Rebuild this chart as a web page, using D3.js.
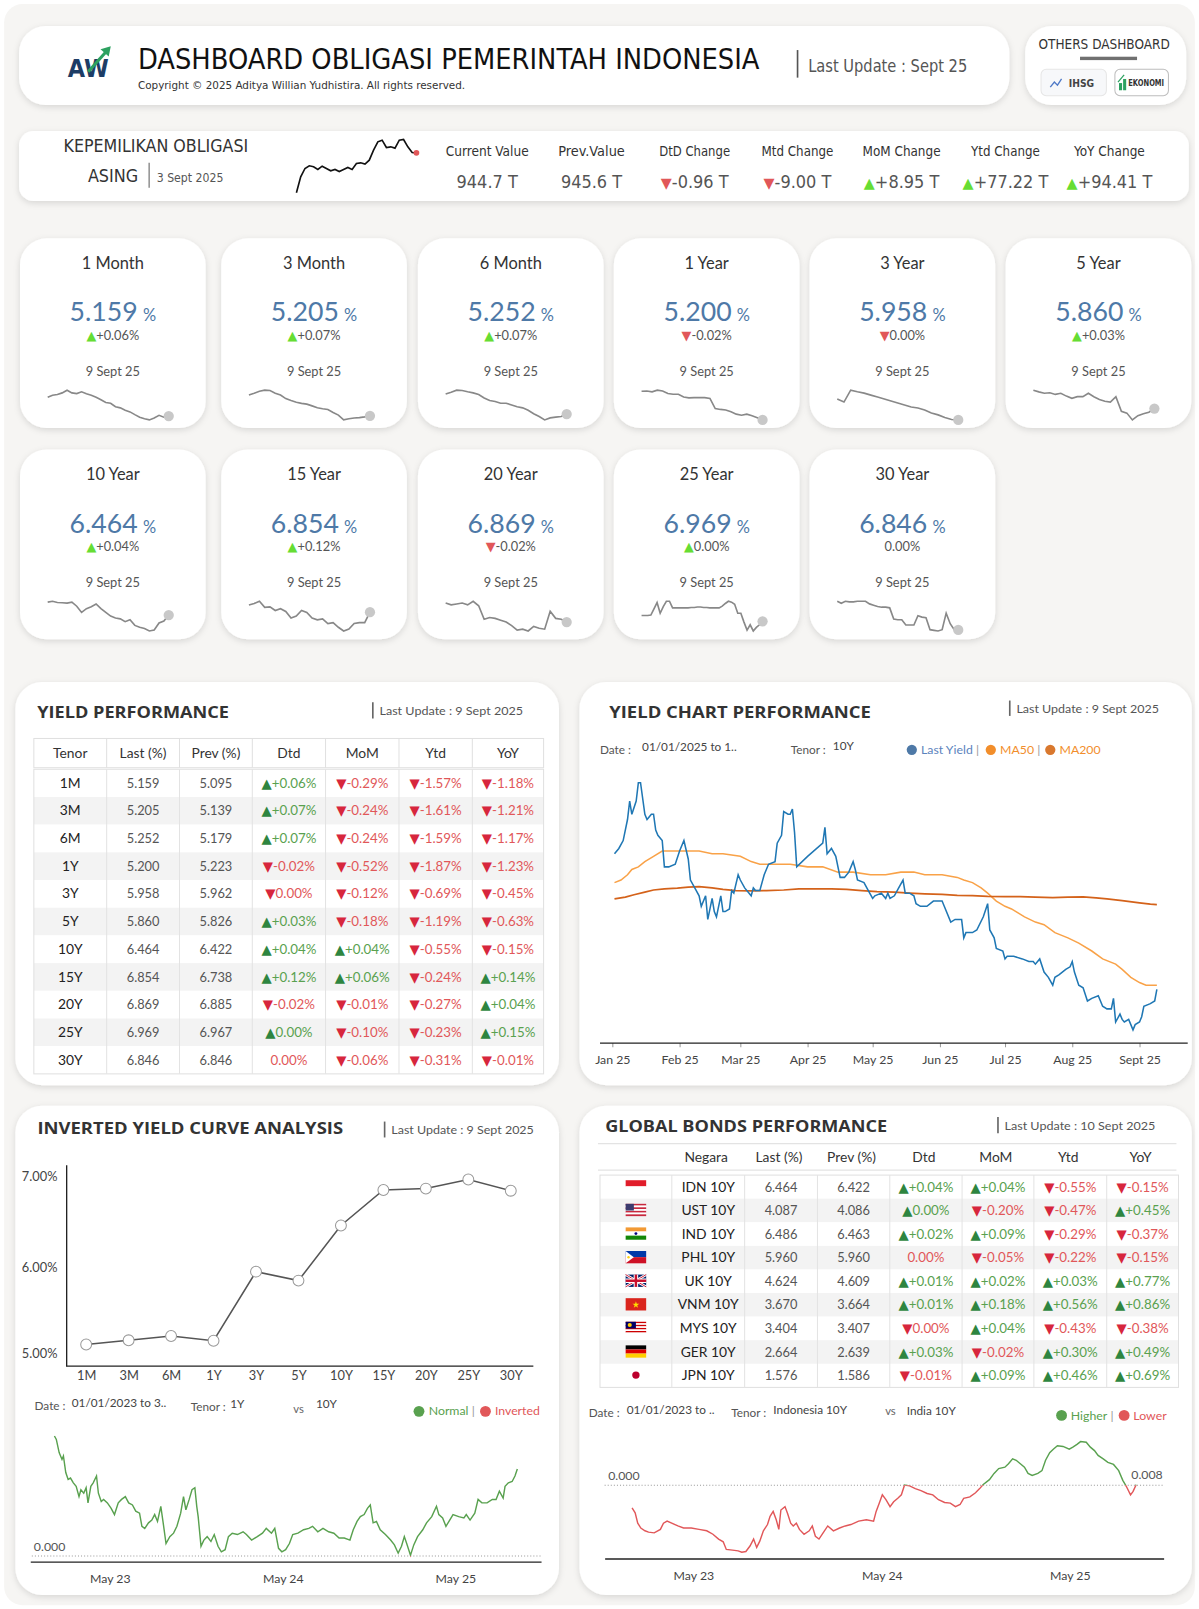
<!DOCTYPE html>
<html><head><meta charset="utf-8">
<script src="https://cdn.jsdelivr.net/npm/d3@7"></script>
<style>body{margin:0;background:#fff;} svg{display:block;}</style>
</head><body>
<script>
// ================= DATA =================
const tenors = ["1M","3M","6M","1Y","3Y","5Y","10Y","15Y","20Y","25Y","30Y"];
const tenorNames = ["1 Month","3 Month","6 Month","1 Year","3 Year","5 Year","10 Year","15 Year","20 Year","25 Year","30 Year"];
const lastYield = [5.159,5.205,5.252,5.200,5.958,5.860,6.464,6.854,6.869,6.969,6.846];
const prevYield = [5.095,5.139,5.179,5.223,5.962,5.826,6.422,6.738,6.885,6.967,6.846];
const dtdChange = [0.06,0.07,0.07,-0.02,0.00,0.03,0.04,0.12,-0.02,0.00,0.00];
const dtdDir    = ["u","u","u","d","d","u","u","u","d","u","n"];
const momChange = [-0.29,-0.24,-0.24,-0.52,-0.12,-0.18,0.04,0.06,-0.01,-0.10,-0.06];
const ytdChange = [-1.57,-1.61,-1.59,-1.87,-0.69,-1.19,-0.55,-0.24,-0.27,-0.23,-0.31];
const yoyChange = [-1.18,-1.21,-1.17,-1.23,-0.45,-0.63,-0.15,0.14,0.04,0.15,-0.01];
const cardDate = "9 Sept 25";

const spark1M  = [6.19,6.30,6.34,6.43,6.58,6.43,6.39,6.49,6.38,6.30,6.19,6.05,5.90,5.86,5.67,5.61,5.48,5.39,5.24,5.10,5.01,4.95,5.05,5.20,5.10,5.159];
const spark3M  = [6.29,6.38,6.48,6.54,6.52,6.38,6.29,6.10,6.00,5.91,5.85,5.81,5.72,5.62,5.57,5.53,5.38,5.24,4.99,5.05,5.09,5.11,5.15,5.205];
const spark6M  = [6.35,6.45,6.56,6.54,6.47,6.41,6.32,6.13,5.99,5.94,5.84,5.84,5.75,5.65,5.59,5.46,5.27,5.12,4.93,5.04,5.08,5.12,5.252];
const spark1Y  = [6.24,6.25,6.22,6.28,6.25,6.16,6.13,6.13,6.03,6.00,6.01,6.01,6.01,5.98,5.61,5.58,5.56,5.50,5.41,5.37,5.41,5.35,5.28,5.200];
const spark3Y  = [6.59,6.50,6.86,6.81,6.77,6.71,6.65,6.59,6.53,6.47,6.41,6.35,6.32,6.26,6.17,6.11,6.03,5.97,5.958];
const spark5Y  = [6.51,6.45,6.40,6.42,6.36,6.40,6.30,6.22,6.28,6.28,6.40,6.28,6.18,6.12,6.09,6.28,5.76,5.70,5.46,5.61,5.68,5.73,5.860];
const spark10Y = [6.88,6.91,6.87,6.86,6.85,6.88,6.75,6.55,6.67,6.73,6.82,6.67,6.55,6.43,6.37,6.34,6.25,6.31,6.13,6.07,6.03,5.95,5.98,6.21,6.27,6.464];
const spark15Y = [7.01,7.04,7.09,6.96,6.97,6.89,6.93,6.87,6.73,6.77,6.89,6.85,6.73,6.69,6.71,6.61,6.63,6.53,6.45,6.49,6.61,6.63,6.63,6.854];
const spark20Y = [7.29,7.25,7.27,7.29,7.25,7.33,7.23,6.93,6.97,6.95,6.91,6.87,6.79,6.69,6.71,6.67,6.77,6.73,6.71,7.11,6.95,6.93,6.869];
const spark25Y = [7.10,7.10,7.10,7.11,7.25,7.39,7.15,7.30,7.42,7.42,7.27,7.27,7.27,7.27,7.27,7.27,7.28,7.28,7.29,7.29,7.28,7.28,7.27,7.27,7.27,7.27,7.31,7.37,7.42,7.40,7.35,7.15,7.15,6.95,6.77,6.89,6.75,6.83,6.89,6.969];
const spark30Y = [7.28,7.25,7.28,7.27,7.27,7.28,7.28,7.28,7.24,7.22,7.20,7.19,7.19,7.18,7.01,7.00,7.00,6.92,6.92,6.92,7.06,7.04,7.03,6.85,6.84,6.83,6.85,7.10,6.94,6.85,6.846];

const ownershipLabels = ["Current Value","Prev.Value","DtD Change","Mtd Change","MoM Change","Ytd Change","YoY Change"];
const ownershipValues = [944.7,945.6,-0.96,-9.00,8.95,77.22,94.41];
const ownershipSeries = [824.7,872.7,897.7,905.7,902.7,894.7,904.7,897.7,890.7,894.7,888.7,894.7,900.7,894.7,912.7,914.7,910.7,922.7,952.7,977.7,982.7,960.7,962.7,958.7,982.7,984.7,962.7,945.6,944.7];

const monthLabels = ["Jan 25","Feb 25","Mar 25","Apr 25","May 25","Jun 25","Jul 25","Aug 25","Sept 25"];
// [day offset from 1 Jan 2025, yield %]
const yield10Y = [[1,6.98],[3,7.00],[5,7.03],[7,7.11],[8,7.18],[9,7.13],[11,7.18],[12,7.25],[13,7.25],[15,7.13],[16,7.11],[18,7.13],[19,7.13],[20,7.07],[21,7.05],[23,7.03],[24,6.93],[26,6.93],[29,6.94],[31,6.99],[33,7.03],[35,6.96],[36,6.88],[38,6.85],[40,6.82],[41,6.78],[43,6.82],[44,6.73],[46,6.81],[47,6.76],[48,6.74],[50,6.82],[51,6.76],[52,6.76],[54,6.77],[55,6.84],[56,6.83],[58,6.90],[59,6.88],[61,6.85],[64,6.82],[65,6.85],[66,6.84],[68,6.84],[70,6.90],[72,6.94],[75,6.95],[76,7.02],[78,7.05],[79,7.14],[81,7.13],[82,7.13],[83,7.15],[84,7.06],[85,6.93],[90,6.97],[97,7.02],[98,7.08],[99,6.98],[101,7.00],[103,6.97],[105,6.89],[107,6.89],[109,6.91],[111,6.95],[112,6.92],[113,6.88],[116,6.87],[118,6.84],[120,6.81],[121,6.82],[124,6.83],[126,6.81],[127,6.83],[128,6.81],[130,6.82],[132,6.85],[134,6.88],[135,6.83],[137,6.83],[139,6.82],[140,6.79],[142,6.78],[145,6.78],[148,6.80],[152,6.80],[153,6.78],[156,6.72],[158,6.73],[161,6.73],[162,6.66],[163,6.68],[166,6.68],[168,6.69],[171,6.74],[173,6.79],[174,6.69],[176,6.66],[177,6.62],[180,6.61],[181,6.58],[182,6.59],[185,6.59],[189,6.58],[192,6.57],[194,6.57],[195,6.56],[197,6.58],[199,6.53],[201,6.51],[203,6.48],[204,6.51],[206,6.52],[209,6.54],[211,6.55],[212,6.57],[213,6.53],[215,6.48],[217,6.47],[219,6.42],[221,6.43],[224,6.44],[226,6.40],[228,6.39],[230,6.39],[231,6.43],[232,6.34],[234,6.37],[235,6.35],[236,6.34],[238,6.35],[239,6.33],[240,6.31],[241,6.33],[243,6.34],[244,6.36],[245,6.40],[248,6.41],[250,6.42],[251,6.464]];
const ma50 = [[1,6.87],[4,6.88],[7,6.90],[9,6.92],[12,6.93],[15,6.95],[19,6.97],[23,6.99],[28,6.99],[35,6.99],[40,6.99],[46,6.98],[51,6.98],[59,6.97],[64,6.95],[68,6.94],[75,6.94],[82,6.94],[90,6.93],[97,6.93],[104,6.91],[111,6.91],[119,6.90],[126,6.90],[133,6.91],[139,6.91],[144,6.90],[152,6.90],[159,6.89],[162,6.88],[166,6.87],[170,6.85],[173,6.83],[177,6.80],[181,6.78],[184,6.77],[190,6.74],[195,6.72],[199,6.71],[204,6.68],[210,6.66],[215,6.64],[221,6.61],[226,6.58],[232,6.56],[235,6.54],[239,6.51],[243,6.49],[246,6.48],[251,6.48]];
const ma200 = [[1,6.808],[6,6.815],[10,6.824],[15,6.834],[19,6.842],[24,6.846],[30,6.849],[35,6.853],[40,6.855],[46,6.850],[51,6.844],[57,6.840],[64,6.839],[71,6.840],[79,6.842],[86,6.846],[93,6.846],[101,6.846],[108,6.844],[115,6.840],[122,6.836],[130,6.834],[137,6.830],[144,6.827],[152,6.825],[159,6.822],[166,6.821],[173,6.818],[181,6.817],[188,6.817],[195,6.815],[203,6.813],[210,6.815],[217,6.816],[223,6.812],[228,6.808],[235,6.802],[243,6.793],[248,6.788],[251,6.786]];

// [day offset from 1 Jan 2023, spread %] 10Y - 1Y
const spread10y1y = [[3,1.74],[7,1.69],[13,1.50],[19,1.40],[22,1.45],[27,1.21],[32,1.11],[37,1.13],[43,1.06],[49,1.01],[55,0.86],[59,0.96],[65,0.91],[70,0.99],[74,0.77],[80,1.01],[85,1.06],[92,1.16],[96,0.91],[102,0.79],[107,0.82],[115,0.77],[123,0.69],[130,0.60],[138,0.77],[145,0.82],[153,0.86],[160,0.77],[168,0.74],[175,0.65],[183,0.62],[188,0.43],[194,0.40],[202,0.48],[209,0.52],[215,0.60],[221,0.50],[228,0.72],[233,0.48],[239,0.18],[247,0.28],[255,0.33],[262,0.43],[270,0.62],[276,0.86],[281,0.67],[288,0.82],[294,0.96],[300,0.99],[304,0.72],[307,0.57],[313,0.14],[319,0.23],[326,0.28],[334,0.21],[341,0.31],[349,0.14],[356,0.06],[364,0.09],[371,0.28],[379,0.33],[390,0.31],[402,0.35],[409,0.31],[420,0.23],[432,0.28],[443,0.33],[451,0.40],[462,0.33],[469,0.40],[477,0.11],[484,0.06],[492,0.09],[500,0.18],[507,0.31],[518,0.33],[530,0.38],[541,0.40],[549,0.43],[560,0.35],[571,0.40],[583,0.35],[594,0.33],[605,0.26],[616,0.26],[628,0.23],[635,0.38],[643,0.50],[650,0.57],[658,0.60],[665,0.69],[671,0.74],[677,0.48],[684,0.50],[692,0.38],[703,0.31],[714,0.23],[722,0.16],[730,0.04],[737,0.14],[743,0.28],[748,0.18],[756,0.01],[763,0.16],[771,0.28],[782,0.38],[790,0.48],[801,0.57],[811,0.72],[816,0.60],[824,0.55],[831,0.43],[839,0.52],[846,0.60],[858,0.57],[869,0.55],[874,0.60],[882,0.52],[892,0.62],[899,0.82],[907,0.77],[918,0.77],[929,0.82],[937,0.82],[944,0.94],[952,0.84],[956,1.01],[963,1.06],[971,1.08],[977,1.16],[982,1.26]];
// [day offset from 1 Jan 2023, spread %] Indonesia 10Y - India 10Y
const spreadIdnInd = [[1,-0.33],[7,-0.40],[12,-0.55],[18,-0.62],[26,-0.66],[33,-0.68],[44,-0.69],[56,-0.64],[62,-0.55],[69,-0.52],[78,-0.55],[90,-0.59],[101,-0.62],[116,-0.62],[131,-0.64],[146,-0.66],[158,-0.71],[169,-0.78],[178,-0.82],[184,-0.93],[196,-0.94],[207,-0.95],[214,-0.97],[222,-0.96],[230,-0.88],[237,-0.78],[243,-0.90],[249,-0.81],[256,-0.66],[264,-0.57],[269,-0.45],[275,-0.38],[281,-0.50],[286,-0.64],[290,-0.36],[298,-0.31],[303,-0.41],[309,-0.55],[314,-0.59],[320,-0.55],[326,-0.64],[335,-0.71],[345,-0.66],[351,-0.59],[357,-0.74],[364,-0.78],[372,-0.69],[381,-0.59],[392,-0.66],[404,-0.62],[415,-0.59],[426,-0.57],[441,-0.52],[456,-0.50],[470,-0.52],[475,-0.38],[481,-0.26],[487,-0.14],[494,-0.21],[502,-0.31],[509,-0.24],[517,-0.19],[524,-0.14],[530,0.00],[540,-0.01],[551,-0.05],[562,-0.08],[574,-0.12],[585,-0.14],[596,-0.21],[608,-0.25],[619,-0.26],[629,-0.31],[638,-0.28],[645,-0.19],[657,-0.17],[668,-0.11],[676,-0.05],[683,0.01],[695,0.08],[704,0.17],[713,0.24],[725,0.26],[732,0.31],[740,0.38],[747,0.36],[755,0.31],[763,0.26],[770,0.17],[778,0.14],[789,0.17],[797,0.21],[804,0.36],[812,0.47],[819,0.52],[827,0.57],[838,0.56],[850,0.52],[857,0.55],[865,0.59],[872,0.63],[883,0.62],[891,0.55],[899,0.50],[906,0.43],[916,0.38],[925,0.33],[936,0.30],[946,0.21],[954,0.07],[961,-0.02],[969,-0.14],[974,-0.09],[980,0.008]];
const spreadTickLabels = ["May 23","May 24","May 25"];

const countries = ["IDN 10Y","UST 10Y","IND 10Y","PHL 10Y","UK 10Y","VNM 10Y","MYS 10Y","GER 10Y","JPN 10Y"];
const flagCodes = ["id","us","in","ph","gb","vn","my","de","jp"];
const gLast = [6.464,4.087,6.486,5.960,4.624,3.670,3.404,2.664,1.576];
const gPrev = [6.422,4.086,6.463,5.960,4.609,3.664,3.407,2.639,1.586];
const gDtd  = [0.04,0.00,0.02,0.00,0.01,0.01,0.00,0.03,-0.01];
const gDtdDir = ["u","u","u","n","u","u","d","u","d"];
const gMom  = [0.04,-0.20,0.09,-0.05,0.02,0.18,0.04,-0.02,0.09];
const gYtd  = [-0.55,-0.47,-0.29,-0.22,0.03,0.56,-0.43,0.30,0.46];
const gYoy  = [-0.15,0.45,-0.37,-0.15,0.77,0.86,-0.38,0.49,0.69];

// ================= DRAW =================
const W=1199, H=1609, S=1199/1169;
const F="Lato,'Open Sans',sans-serif";
const FN="'Liberation Sans Narrow','DejaVu Sans Condensed','Arial Narrow',sans-serif";
const FB="'Open Sans',Lato,sans-serif";
const FA="'DejaVu Sans',sans-serif";
const GREEN="#59a14f", RED="#e15759", UPA="#2e8540", DNA="#d7263d", LIME="#66dd33";

const svg=d3.select("body").append("svg").attr("width",W).attr("height",H);
const defs=svg.append("defs");
const flt=defs.append("filter").attr("id","sh").attr("x","-10%").attr("y","-10%").attr("width","120%").attr("height","130%");
flt.append("feDropShadow").attr("dx",0).attr("dy",2).attr("stdDeviation",3).attr("flood-color","#000").attr("flood-opacity",0.13);
const root=svg.append("g").attr("transform",`scale(${S})`);
root.append("rect").attr("x",4).attr("y",4).attr("width",1161).attr("height",1561).attr("rx",18).attr("fill","#f6f5f3");

function card(x,y,w,h,rx){return root.append("rect").attr("x",x).attr("y",y).attr("width",w).attr("height",h).attr("rx",rx).attr("fill","#fff").attr("filter","url(#sh)");}
function T(g,x,y,s,o){o=o||{};const t=g.append("text").attr("x",x).attr("y",y).attr("font-family",o.f||F).attr("font-size",o.s||12).attr("fill",o.c||"#333").attr("text-anchor",o.a||"start").text(s);
  if(o.w)t.attr("font-weight",o.w); if(o.L)t.attr("textLength",o.L).attr("lengthAdjust","spacingAndGlyphs"); return t;}
function L(g,x1,y1,x2,y2,c,w,da){const l=g.append("line").attr("x1",x1).attr("y1",y1).attr("x2",x2).attr("y2",y2).attr("stroke",c).attr("stroke-width",w||1); if(da)l.attr("stroke-dasharray",da); return l;}
const fmtPct=v=>(v>0?"+":"")+v.toFixed(2)+"%";
function chg(g,x,y,val,dir,o){
  const t=g.append("text").attr("x",x).attr("y",y).attr("text-anchor","middle").attr("font-family",F).attr("font-size",o.s);
  if(dir==="n"){t.append("tspan").attr("fill",o.nc).text(fmtPct(val));return t;}
  t.append("tspan").attr("font-family",FA).attr("font-size",o.s*(o.k||0.9)).attr("fill",dir==="u"?o.ua:o.da).text(dir==="u"?"▲":"▼");
  t.append("tspan").attr("fill",dir==="u"?o.ut:o.dt).text(fmtPct(val));
  return t;
}
const dirOf=v=>v>0?"u":(v<0?"d":"n");

// ---------- Header ----------
card(18.6,25.4,965.5,77,26);
T(root,66,75,"AW",{f:"'DejaVu Sans',sans-serif",s:25,w:900,c:"#1d3d66",L:40});
root.append("path").attr("d","M86,70 L103,51").attr("stroke","#2da160").attr("stroke-width",3).attr("fill","none");
root.append("path").attr("d","M98,48 L108,45 L106,55 Z").attr("fill","#2da160");
T(root,134.5,67.3,"DASHBOARD OBLIGASI PEMERINTAH INDONESIA",{f:FN,s:27,c:"#111",L:606});
T(root,134.5,87.2,"Copyright © 2025 Aditya Willian Yudhistira. All rights reserved.",{f:FN,s:11,c:"#333",L:319});
L(root,777.6,48.8,777.6,75.7,"#555",1.6);
T(root,788,70.5,"Last Update : Sept 25",{f:FN,s:18,c:"#555",L:155});

// ---------- Others dashboard ----------
card(999.5,25.4,157,77,26);
T(root,1076.5,48,"OTHERS DASHBOARD",{f:FN,s:13,c:"#333",a:"middle",L:128});
root.append("rect").attr("x",1053).attr("y",55.3).attr("width",55.6).attr("height",3.3).attr("fill","#707070");
root.append("rect").attr("x",1015).attr("y",67.6).attr("width",63.7).attr("height",25.7).attr("rx",5).attr("fill","#f7f8fa").attr("stroke","#e6e6e6");
root.append("path").attr("d","M1024,85 L1028,80 L1031,83 L1035,77").attr("stroke","#4e79c7").attr("stroke-width",1.3).attr("fill","none");
T(root,1042,84.5,"IHSG",{f:FN,s:10,c:"#444",w:700});
root.append("rect").attr("x",1087).attr("y",67.6).attr("width",52.2).attr("height",25.7).attr("rx",5).attr("fill","#fff").attr("stroke","#bdbdbd");
[[1091,81,3,7],[1095,77,3,11]].forEach(b=>root.append("rect").attr("x",b[0]).attr("y",b[1]).attr("width",b[2]).attr("height",b[3]).attr("fill","#2da160"));
root.append("path").attr("d","M1090,80 L1096,73").attr("stroke","#2da160").attr("stroke-width",1.2);
T(root,1100,83.5,"EKONOMI",{f:FN,s:8,c:"#333",w:700,L:35});

// ---------- Kepemilikan ----------
card(18.6,127.7,1140.5,68.3,14);
T(root,62,147.9,"KEPEMILIKAN OBLIGASI",{f:FN,s:17,c:"#333",L:180});
T(root,85.7,177.2,"ASING",{f:FN,s:17,c:"#333",L:49});
L(root,145.4,158.6,145.4,183,"#777",1.2);
T(root,152.8,177.2,"3 Sept 2025",{f:FN,s:12,c:"#555",L:65});
{
  const xs=d3.scaleLinear().domain([0,ownershipSeries.length-1]).range([289,406]);
  const ys=d3.scaleLinear().domain(d3.extent(ownershipSeries)).range([188,136]);
  root.append("path").attr("d",d3.line().x((d,i)=>xs(i)).y(d=>ys(d))(ownershipSeries)).attr("fill","none").attr("stroke","#111").attr("stroke-width",1.6);
  const n=ownershipSeries.length-1;
  root.append("circle").attr("cx",xs(n)).attr("cy",ys(ownershipSeries[n])).attr("r",2.8).attr("fill",RED);
}
const ownX=[475,576.7,677.3,777.5,879,980.3,1081.7];
const ownLabelLen=[81,65,69,70,76,67,69];
ownershipLabels.forEach((lb,i)=>{
  T(root,ownX[i],151.8,lb,{f:FN,s:14,c:"#333",a:"middle",L:ownLabelLen[i]});
  const v=ownershipValues[i];
  const t=root.append("text").attr("x",ownX[i]).attr("y",183).attr("text-anchor","middle").attr("font-family",FN).attr("font-size",17.5).attr("fill","#555");
  if(i<2){t.text(v.toFixed(1)+" T");}
  else{
    t.append("tspan").attr("font-family",FA).attr("font-size",14).attr("fill",v>0?LIME:RED).text(v>0?"▲":"▼");
    t.append("tspan").text((v>0?"+":"")+v.toFixed(2)+" T");
  }
});

// ---------- KPI cards ----------
const sparkSets=[spark1M,spark3M,spark6M,spark1Y,spark3Y,spark5Y,spark10Y,spark15Y,spark20Y,spark25Y,spark30Y];
const cardX=[19.5,215.7,407.5,598.5,789.3,980.5], cardW=181, cardH=185, rowY=[232.4,438.2];
tenorNames.forEach((nm,i)=>{
  const x=cardX[i%6], y=rowY[Math.floor(i/6)], cx=x+cardW/2;
  card(x,y,cardW,cardH,26);
  T(root,cx,y+30,nm,{s:16,a:"middle",c:"#333"});
  const v=root.append("text").attr("x",cx).attr("y",y+81).attr("text-anchor","middle").attr("font-family",F).attr("fill","#4e79a7");
  v.append("tspan").attr("font-size",26).text(lastYield[i].toFixed(3));
  v.append("tspan").attr("font-size",16).attr("dx",5).text("%");
  chg(root,cx,y+99.5,dtdChange[i],dtdDir[i],{s:12.5,k:1,ua:LIME,da:RED,ut:"#555",dt:"#555",nc:"#555"});
  T(root,cx,y+134.5,cardDate,{s:12.5,a:"middle",c:"#555"});
  const data=sparkSets[i];
  const xs=d3.scaleLinear().domain([0,data.length-1]).range([x+27,x+145]);
  const ys=d3.scaleLinear().domain(d3.extent(data)).range([y+177,y+148]);
  root.append("path").attr("d",d3.line().x((d,j)=>xs(j)).y(d=>ys(d))(data)).attr("fill","none").attr("stroke","#888").attr("stroke-width",1.6);
  root.append("circle").attr("cx",xs(data.length-1)).attr("cy",ys(data[data.length-1])).attr("r",5).attr("fill","#c8c8c8");
});

// ---------- Panel helper ----------
function panelTitle(x,y,title,len,lx,ly1,ly2,upd,ux,uy,ulen){
  T(root,x,y,title,{f:FB,s:16,w:700,c:"#333",L:len});
  L(root,lx,ly1,lx,ly2,"#666",1.6);
  T(root,ux,uy,upd,{s:12,c:"#555",L:ulen});
}
const tblStyle={s:13,k:1,ua:UPA,da:DNA,ut:GREEN,dt:RED,nc:RED};

// ---------- Yield Performance ----------
card(15,665,530,393,26);
panelTitle(36.3,700,"YIELD PERFORMANCE",187,363.5,684.7,700.5,"Last Update : 9 Sept 2025",370,697,140);
{
  const cols=[33,104,175,246,317.4,389,460.5,530];
  const cc=cols.slice(0,7).map((c,i)=>(c+cols[i+1])/2);
  const hdr=["Tenor","Last (%)","Prev (%)","Dtd","MoM","Ytd","YoY"];
  root.append("rect").attr("x",33).attr("y",720).attr("width",497).attr("height",28.5).attr("fill","#fff").attr("stroke","#e0e0e0");
  cols.slice(1,7).forEach(c=>L(root,c,720,c,748.5,"#e0e0e0",1));
  hdr.forEach((h,i)=>T(root,cc[i],739,h,{s:13.5,a:"middle",c:"#333"}));
  const top=750, rh=27;
  tenors.forEach((tn,i)=>{
    const y=top+i*rh;
    root.append("rect").attr("x",33).attr("y",y).attr("width",497).attr("height",rh).attr("fill",i%2?"#f3f3f3":"#fff");
    const by=y+rh/2+4.5;
    T(root,cc[0],by,tn,{s:13.5,a:"middle",c:"#222"});
    T(root,cc[1],by,lastYield[i].toFixed(3),{s:12.5,a:"middle",c:"#555"});
    T(root,cc[2],by,prevYield[i].toFixed(3),{s:12.5,a:"middle",c:"#555"});
    chg(root,cc[3],by,dtdChange[i],dtdDir[i],tblStyle);
    chg(root,cc[4],by,momChange[i],dirOf(momChange[i]),tblStyle);
    chg(root,cc[5],by,ytdChange[i],dirOf(ytdChange[i]),tblStyle);
    chg(root,cc[6],by,yoyChange[i],dirOf(yoyChange[i]),tblStyle);
  });
  root.append("rect").attr("x",33).attr("y",top).attr("width",497).attr("height",rh*tenors.length).attr("fill","none").attr("stroke","#e0e0e0");
  cols.slice(1,7).forEach(c=>L(root,c,top,c,top+rh*tenors.length,"#e3e3e3",1));
}

// ---------- Yield Chart Performance ----------
card(565,665,597,393,26);
panelTitle(594,700,"YIELD CHART PERFORMANCE",255,984.5,683,698,"Last Update : 9 Sept 2025",991,695,139);
T(root,585,735.5,"Date :",{s:11.5,c:"#555"});
T(root,626,732.5,"01/01/2025 to 1..",{s:11.5,c:"#444"});
T(root,771,735.5,"Tenor :",{s:11.5,c:"#555"});
T(root,812,731.5,"10Y",{s:11.5,c:"#444"});
{
  const lg=[[889,"#4e79a7","Last Yield",true],[966,"#f28e2b","MA50",true],[1024,"#d9782e","MA200",false]];
  lg.forEach(d=>{
    root.append("circle").attr("cx",d[0]).attr("cy",731).attr("r",5).attr("fill",d[1]);
    const t=root.append("text").attr("x",d[0]+9).attr("y",735.5).attr("font-family",F).attr("font-size",12);
    t.append("tspan").attr("fill",d[1]==="#4e79a7"?"#5b83bd":"#f28e2b").text(d[2]);
    if(d[3]) t.append("tspan").attr("fill","#999").text(" |");
  });
}
{
  const t0=new Date(2025,0,1);
  const dd=d=>d3.timeDay.offset(t0,d);
  const x=d3.scaleTime().domain([t0,new Date(2025,8,1)]).range([597,1111]);
  const y=d3.scaleLinear().domain([6.3,7.3]).range([1006.7,750.3]);
  const ln=d3.line().x(d=>x(dd(d[0]))).y(d=>y(d[1]));
  root.append("path").attr("d",ln(ma50)).attr("fill","none").attr("stroke","#f9a248").attr("stroke-width",1.5);
  root.append("path").attr("d",ln(ma200)).attr("fill","none").attr("stroke","#d4621a").attr("stroke-width",1.7);
  root.append("path").attr("d",ln(yield10Y)).attr("fill","none").attr("stroke","#1f77b4").attr("stroke-width",1.5);
  const ax=root.append("g").attr("transform","translate(0,1017)")
    .call(d3.axisBottom(x).tickValues(d3.timeMonth.range(t0,new Date(2025,8,2))).tickSize(4).tickPadding(8).tickFormat(d=>monthLabels[d.getMonth()]));
  ax.select(".domain").remove();
  ax.selectAll(".tick line").attr("stroke","#999");
  ax.selectAll("text").attr("font-family",F).attr("font-size",12).attr("fill","#444");
  L(root,585,1017,1158,1017,"#222",1.3);
}

// ---------- Inverted Yield Curve ----------
card(15,1078,530,477,26);
panelTitle(36.5,1106,"INVERTED YIELD CURVE ANALYSIS",298,375,1093.5,1109,"Last Update : 9 Sept 2025",381.5,1106,139);
{
  const x=d3.scalePoint().domain(tenors).range([84,498]);
  const y=d3.scaleLinear().domain([5,7]).range([1325,1147.2]);
  const ay=root.append("g").attr("transform","translate(65,0)").call(d3.axisLeft(y).tickValues([5,6,7]).tickSize(0).tickPadding(9).tickFormat(d=>d.toFixed(2)+"%"));
  ay.select(".domain").remove();
  ay.selectAll("text").attr("font-family",F).attr("font-size",12.5).attr("fill","#444");
  ay.selectAll(".tick").filter(d=>d===5).select("text").attr("dy","-0.12em");
  const axx=root.append("g").attr("transform","translate(0,1332)").call(d3.axisBottom(x).tickSize(0).tickPadding(5));
  axx.select(".domain").remove();
  axx.selectAll("text").attr("font-family",F).attr("font-size",12.5).attr("fill","#444");
  L(root,65,1136,65,1332,"#222",1.3);
  L(root,64.4,1332,520,1332,"#222",1.3);
  root.append("path").attr("d",d3.line().x((d,i)=>x(tenors[i])).y(d=>y(d))(lastYield)).attr("fill","none").attr("stroke","#555").attr("stroke-width",1.5);
  root.selectAll(null).data(lastYield).enter().append("circle").attr("cx",(d,i)=>x(tenors[i])).attr("cy",d=>y(d)).attr("r",5.3).attr("fill","#fff").attr("stroke","#999").attr("stroke-width",1);
}
T(root,33.7,1375,"Date :",{s:11.5,c:"#555"});
T(root,70,1372,"01/01/2023 to 3..",{s:11.5,c:"#444"});
T(root,186,1375.5,"Tenor :",{s:11.5,c:"#555"});
T(root,224.4,1372.5,"1Y",{s:11.5,c:"#444"});
T(root,286,1378,"vs",{s:11,c:"#666"});
T(root,308,1373,"10Y",{s:11.5,c:"#444"});
root.append("circle").attr("cx",408.5).attr("cy",1376).attr("r",5.3).attr("fill",GREEN);
{const t=root.append("text").attr("x",418).attr("y",1380).attr("font-family",F).attr("font-size",12);
 t.append("tspan").attr("fill",GREEN).text("Normal");t.append("tspan").attr("fill","#999").text(" |");}
root.append("circle").attr("cx",473.3).attr("cy",1376).attr("r",5.3).attr("fill",RED);
T(root,482.5,1380,"Inverted",{s:12,c:RED});
{
  const s0=new Date(2023,0,1);
  const dd=d=>d3.timeDay.offset(s0,d);
  const x=d3.scaleTime().domain([new Date(2023,4,1),new Date(2025,4,1)]).range([107,444]);
  const y=d3.scaleLinear().domain([0,2]).range([1517,1382.6]);
  T(root,33,1512.5,"0.000",{s:12,c:"#555"});
  L(root,31,1517,527,1517,"#999",1,"1,2");
  const ln=d3.line().x(d=>x(dd(d[0]))).y(d=>y(d[1]));
  defs.append("clipPath").attr("id","invUp").append("rect").attr("x",20).attr("y",1380).attr("width",520).attr("height",1517-1380);
  defs.append("clipPath").attr("id","invDn").append("rect").attr("x",20).attr("y",1517).attr("width",520).attr("height",20);
  root.append("path").attr("d",ln(spread10y1y)).attr("fill","none").attr("stroke",GREEN).attr("stroke-width",1.4).attr("clip-path","url(#invUp)");
  root.append("path").attr("d",ln(spread10y1y)).attr("fill","none").attr("stroke",RED).attr("stroke-width",1.4).attr("clip-path","url(#invDn)");
  const ax=root.append("g").attr("transform","translate(0,1523)").call(d3.axisBottom(x).tickValues([new Date(2023,4,1),new Date(2024,4,1),new Date(2025,4,1)]).tickSize(0).tickPadding(12).tickFormat((d,i)=>spreadTickLabels[i]));
  ax.select(".domain").remove();
  ax.selectAll("text").attr("font-family",F).attr("font-size",12).attr("fill","#444");
  L(root,30,1523,528,1523,"#222",1.3);
}

// ---------- Global Bonds ----------
card(565,1078,597,477,26);
panelTitle(590,1104,"GLOBAL BONDS PERFORMANCE",275,973,1089,1105,"Last Update : 10 Sept 2025",979.4,1102,147);
function flag(g,code,cx,cy){
  const w=20,h=12,x=cx-w/2,y=cy-h/2, fg=g.append("g");
  const R=(a,b,c,d,f)=>fg.append("rect").attr("x",a).attr("y",b).attr("width",c).attr("height",d).attr("fill",f);
  if(code==="id"){R(x,y,w,h/2,"#e11d2a");R(x,y+h/2,w,h/2,"#fff");}
  if(code==="us"){for(let k=0;k<7;k++)R(x,y+k*h/7,w,h/7,k%2?"#fff":"#c9283e");R(x,y,8,6.5,"#3c3b6e");}
  if(code==="in"){R(x,y,w,4,"#f29933");R(x,y+4,w,4,"#fff");R(x,y+8,w,4,"#138808");fg.append("circle").attr("cx",cx).attr("cy",cy).attr("r",1.4).attr("fill","#000080");}
  if(code==="ph"){R(x,y,w,h/2,"#0038a8");R(x,y+h/2,w,h/2,"#ce1126");fg.append("path").attr("d",`M${x},${y}L${x+8},${cy}L${x},${y+h}Z`).attr("fill","#fff");fg.append("circle").attr("cx",x+2.8).attr("cy",cy).attr("r",1.2).attr("fill","#fcd116");}
  if(code==="gb"){R(x,y,w,h,"#012169");
    fg.append("path").attr("d",`M${x},${y}L${x+w},${y+h}M${x+w},${y}L${x},${y+h}`).attr("stroke","#fff").attr("stroke-width",2.4);
    fg.append("path").attr("d",`M${x},${y}L${x+w},${y+h}M${x+w},${y}L${x},${y+h}`).attr("stroke","#c8102e").attr("stroke-width",0.9);
    R(cx-2.2,y,4.4,h,"#fff");R(x,cy-2.2,w,4.4,"#fff");R(cx-1.2,y,2.4,h,"#c8102e");R(x,cy-1.2,w,2.4,"#c8102e");}
  if(code==="vn"){R(x,y,w,h,"#da251d");fg.append("path").attr("d",d3.symbol(d3.symbolStar,14)()).attr("transform",`translate(${cx},${cy+0.5})`).attr("fill","#ffde00");}
  if(code==="my"){for(let k=0;k<8;k++)R(x,y+k*h/8,w,h/8,k%2?"#fff":"#cc0001");R(x,y,10,6.5,"#010066");fg.append("circle").attr("cx",x+4).attr("cy",y+3.2).attr("r",2).attr("fill","#fc0");}
  if(code==="de"){R(x,y,w,4,"#000");R(x,y+4,w,4,"#dd0000");R(x,y+8,w,4,"#ffce00");}
  if(code==="jp"){fg.append("circle").attr("cx",cx).attr("cy",cy).attr("r",3.6).attr("fill","#bc002d");}
}
{
  const cols=[585,655,726,797,867.5,938,1008,1079,1149];
  const cc=cols.slice(0,8).map((c,i)=>(c+cols[i+1])/2);
  const hdr=["","Negara","Last (%)","Prev (%)","Dtd","MoM","Ytd","YoY"];
  L(root,583,1114.9,1147,1114.9,"#e3e3e3",1.2);
  L(root,583,1140.9,1147,1140.9,"#e3e3e3",1.2);
  hdr.forEach((h,i)=>{if(h)T(root,cc[i]-2,1133,h,{s:13.5,a:"middle",c:"#333"});});
  const top=1145.7, rh=23;
  countries.forEach((cn,i)=>{
    const y=top+i*rh, by=y+rh/2+4.5;
    root.append("rect").attr("x",585).attr("y",y).attr("width",564).attr("height",rh).attr("fill",i%2?"#f3f3f3":"#fff");
    flag(root,flagCodes[i],cc[0],y+rh/2-0.5);
    T(root,cc[1],by,cn,{s:13.5,a:"middle",c:"#222"});
    T(root,cc[2],by,gLast[i].toFixed(3),{s:12.5,a:"middle",c:"#555"});
    T(root,cc[3],by,gPrev[i].toFixed(3),{s:12.5,a:"middle",c:"#555"});
    chg(root,cc[4],by,gDtd[i],gDtdDir[i],tblStyle);
    chg(root,cc[5],by,gMom[i],dirOf(gMom[i]),tblStyle);
    chg(root,cc[6],by,gYtd[i],dirOf(gYtd[i]),tblStyle);
    chg(root,cc[7],by,gYoy[i],dirOf(gYoy[i]),tblStyle);
  });
  root.append("rect").attr("x",585).attr("y",top).attr("width",564).attr("height",rh*countries.length).attr("fill","none").attr("stroke","#e0e0e0");
  cols.slice(1,8).forEach(c=>L(root,c,top,c,top+rh*countries.length,"#e3e3e3",1));
}
T(root,574,1382,"Date :",{s:11.5,c:"#555"});
T(root,611,1379,"01/01/2023 to ..",{s:11.5,c:"#444"});
T(root,713,1382,"Tenor :",{s:11.5,c:"#555"});
T(root,754,1379,"Indonesia 10Y",{s:11.5,c:"#444"});
T(root,863,1380,"vs",{s:11,c:"#666"});
T(root,884,1380,"India 10Y",{s:11.5,c:"#444"});
root.append("circle").attr("cx",1035).attr("cy",1380).attr("r",5.3).attr("fill",GREEN);
{const t=root.append("text").attr("x",1044).attr("y",1384).attr("font-family",F).attr("font-size",12);
 t.append("tspan").attr("fill",GREEN).text("Higher");t.append("tspan").attr("fill","#999").text(" |");}
root.append("circle").attr("cx",1096).attr("cy",1380).attr("r",5.3).attr("fill",RED);
T(root,1105,1384,"Lower",{s:12,c:RED});
{
  const s0=new Date(2023,0,1);
  const dd=d=>d3.timeDay.offset(s0,d);
  const x=d3.scaleTime().domain([new Date(2023,4,1),new Date(2025,4,1)]).range([676,1043]);
  const y=d3.scaleLinear().domain([-1,1]).range([1515.4,1380.6]);
  T(root,593,1443,"0.000",{s:12,c:"#555"});
  T(root,1103,1442,"0.008",{s:12,c:"#555"});
  L(root,589.5,1448,1135,1448,"#999",1,"1,2");
  const ln=d3.line().x(d=>x(dd(d[0]))).y(d=>y(d[1]));
  defs.append("clipPath").attr("id","gUp").append("rect").attr("x",580).attr("y",1370).attr("width",570).attr("height",1448-1370);
  defs.append("clipPath").attr("id","gDn").append("rect").attr("x",580).attr("y",1448).attr("width",570).attr("height",72);
  root.append("path").attr("d",ln(spreadIdnInd)).attr("fill","none").attr("stroke",GREEN).attr("stroke-width",1.4).attr("clip-path","url(#gUp)");
  root.append("path").attr("d",ln(spreadIdnInd)).attr("fill","none").attr("stroke",RED).attr("stroke-width",1.4).attr("clip-path","url(#gDn)");
  const ax=root.append("g").attr("transform","translate(0,1520)").call(d3.axisBottom(x).tickValues([new Date(2023,4,1),new Date(2024,4,1),new Date(2025,4,1)]).tickSize(0).tickPadding(12).tickFormat((d,i)=>spreadTickLabels[i]));
  ax.select(".domain").remove();
  ax.selectAll("text").attr("font-family",F).attr("font-size",12).attr("fill","#444");
  L(root,590,1520,1135,1520,"#222",1.3);
}
</script>
</body></html>
